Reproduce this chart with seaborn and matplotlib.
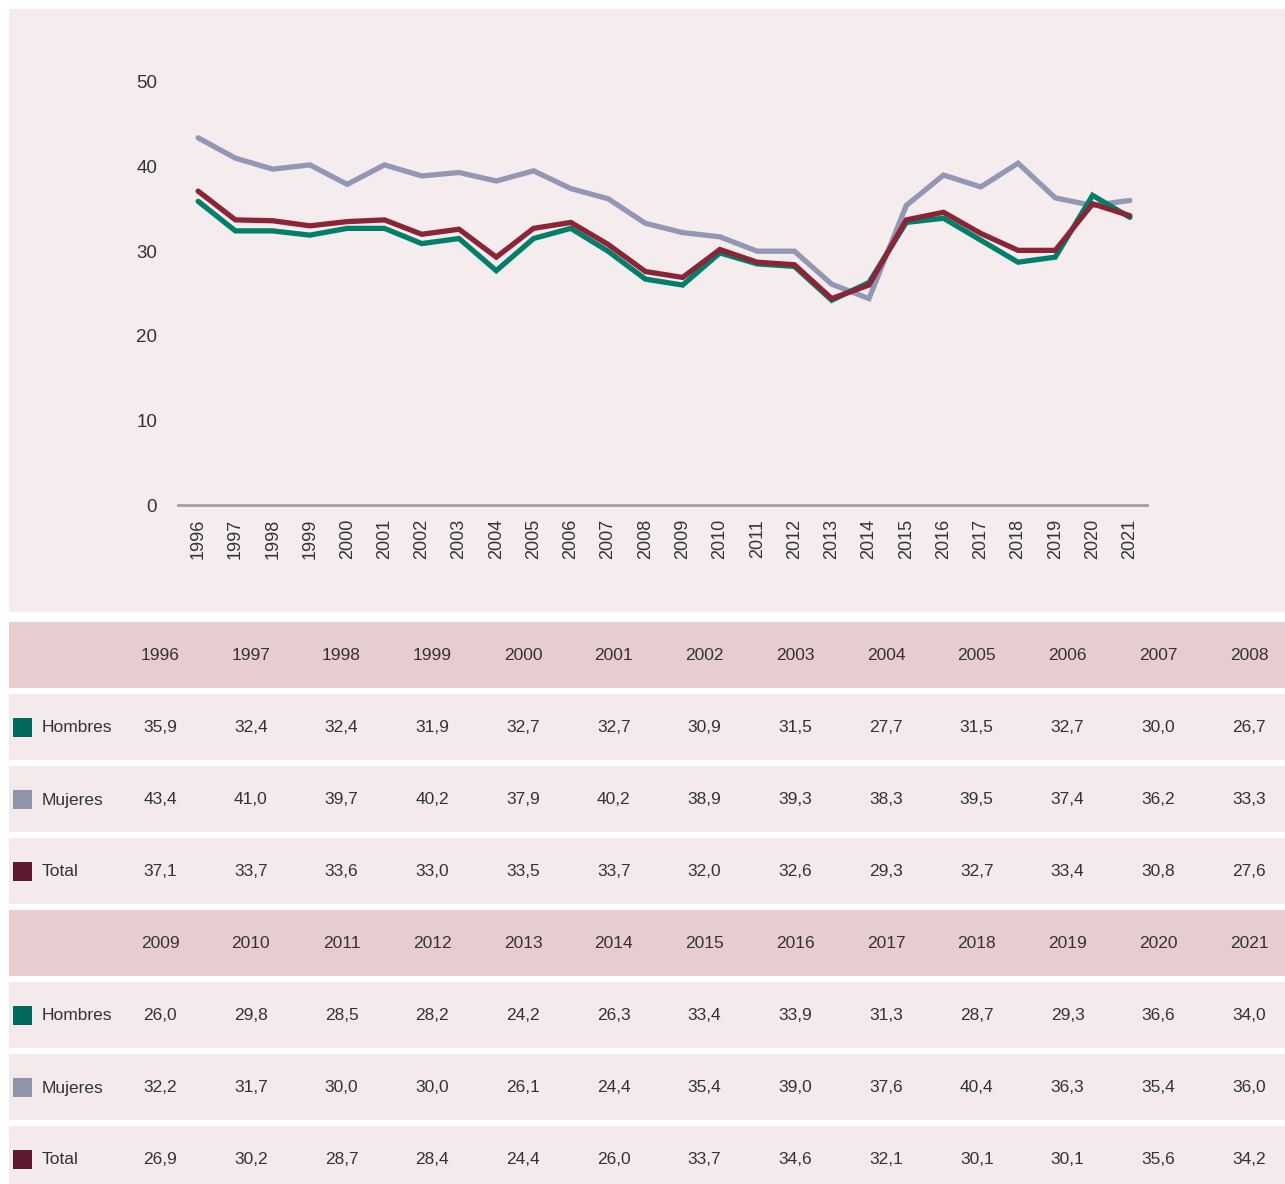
import matplotlib
matplotlib.use('Agg')
import matplotlib.pyplot as plt
import seaborn as sns
import pandas as pd
from matplotlib.patches import Rectangle

years = list(range(1996, 2022))
hombres = [35.9, 32.4, 32.4, 31.9, 32.7, 32.7, 30.9, 31.5, 27.7, 31.5, 32.7, 30.0, 26.7,
           26.0, 29.8, 28.5, 28.2, 24.2, 26.3, 33.4, 33.9, 31.3, 28.7, 29.3, 36.6, 34.0]
mujeres = [43.4, 41.0, 39.7, 40.2, 37.9, 40.2, 38.9, 39.3, 38.3, 39.5, 37.4, 36.2, 33.3,
           32.2, 31.7, 30.0, 30.0, 26.1, 24.4, 35.4, 39.0, 37.6, 40.4, 36.3, 35.4, 36.0]
total = [37.1, 33.7, 33.6, 33.0, 33.5, 33.7, 32.0, 32.6, 29.3, 32.7, 33.4, 30.8, 27.6,
         26.9, 30.2, 28.7, 28.4, 24.4, 26.0, 33.7, 34.6, 32.1, 30.1, 30.1, 35.6, 34.2]
y_ticks = [0, 10, 20, 30, 40, 50]

series_names = ['Hombres', 'Mujeres', 'Total']
line_colors = {'Hombres': '#00806b', 'Mujeres': '#9297b5', 'Total': '#8b2535'}
legend_colors = {'Hombres': '#006b5a', 'Mujeres': '#9094aa', 'Total': '#5e1a33'}

W, H = 1285, 1184
PANEL = '#f5ecee'
HEADER = '#e8cdd0'
ROW = '#f5eaeb'
TXT = '#333333'

df = pd.DataFrame({'year': years * 3,
                   'value': hombres + mujeres + total,
                   'serie': ['Hombres'] * 26 + ['Mujeres'] * 26 + ['Total'] * 26})

sns.set_theme(style='white')
plt.rcParams['font.family'] = ['Liberation Sans', 'DejaVu Sans']

fig = plt.figure(figsize=(W / 100, H / 100), dpi=100)
fig.patch.set_facecolor('white')


def px_rect(x0, y0, x1, y1, color):
    # rectangle given in pixel coords (origin top-left)
    fig.patches.append(Rectangle((x0 / W, 1 - y1 / H), (x1 - x0) / W, (y1 - y0) / H,
                                 transform=fig.transFigure, facecolor=color,
                                 edgecolor='none', zorder=-5))


def px_text(x, y, s, **kw):
    fig.text(x / W, 1 - y / H, s, color=TXT, fontsize=12.5, va='center', **kw)


# chart panel
px_rect(9, 9, 1285, 612, PANEL)

ax = fig.add_axes([178 / W, 1 - 505 / H, 969 / W, 423 / H])
ax.set_zorder(5)
ax.patch.set_alpha(0)
sns.lineplot(data=df, x='year', y='value', hue='serie', hue_order=['Mujeres', 'Hombres', 'Total'],
             palette=line_colors, linewidth=3.8, legend=False, ax=ax)
for ln in ax.lines:
    ln.set_solid_joinstyle('miter')
ax.set_xlim(1995.46, 2021.46)
ax.set_ylim(0, 50)
ax.set_xticks(years)
ax.set_xticklabels([str(y) for y in years], rotation=90, fontsize=13, color=TXT)
ax.set_yticks(y_ticks)
ax.set_yticklabels([str(v) for v in y_ticks], fontsize=13.5, color=TXT)
ax.tick_params(axis='x', length=0, pad=10)
ax.tick_params(axis='y', length=0, pad=15)
ax.set_xlabel('')
ax.set_ylabel('')
for side in ['top', 'right', 'left']:
    ax.spines[side].set_visible(False)
ax.spines['bottom'].set_color('#a0a0a0')
ax.spines['bottom'].set_linewidth(2)

# data table, two blocks of 13 years
values = {'Hombres': hombres, 'Mujeres': mujeres, 'Total': total}
col_x0, col_step = 160, 90.75
for block in range(2):
    top = 622 + block * 288
    px_rect(9, top, 1285, top + 66, HEADER)
    for j in range(13):
        i = block * 13 + j
        px_text(col_x0 + j * col_step, top + 34, str(years[i]), ha='center')
    for r, name in enumerate(series_names):
        y0 = top + 72 * (r + 1)
        px_rect(9, y0, 1285, min(y0 + 66, H), ROW)
        yc = y0 + 34
        px_rect(13, yc - 10, 32, yc + 9, legend_colors[name])
        px_text(42, yc, name, ha='left')
        for j in range(13):
            i = block * 13 + j
            px_text(col_x0 + j * col_step, yc, f'{values[name][i]:.1f}'.replace('.', ','), ha='center')

fig.savefig('out.png', dpi=100, facecolor='white')
